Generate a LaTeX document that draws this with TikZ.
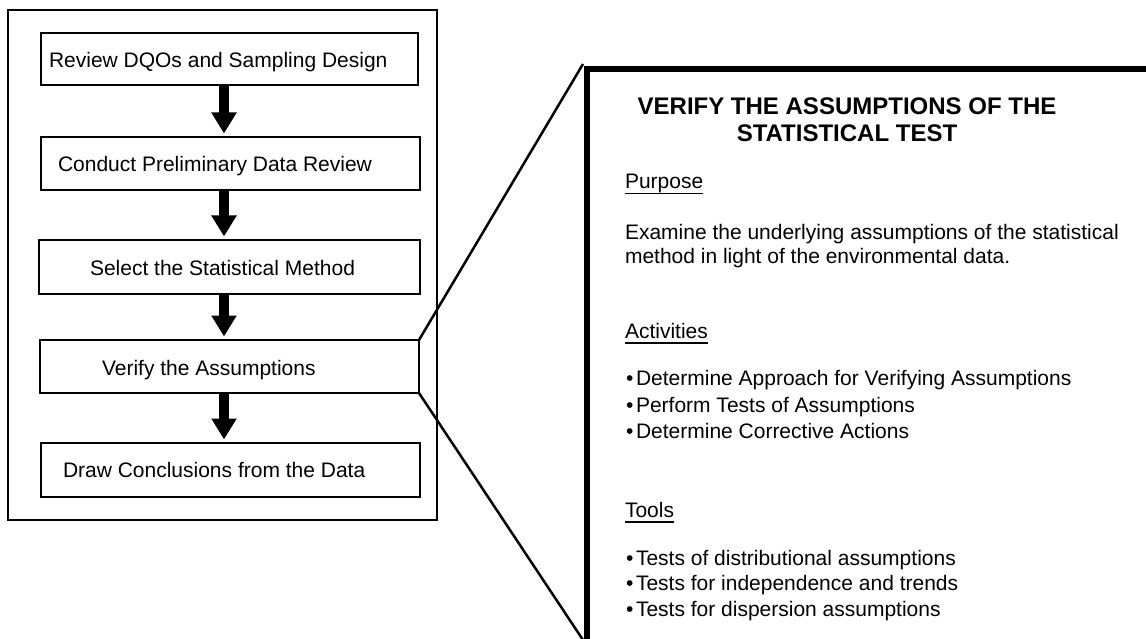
\documentclass[tikz,border=0pt]{standalone}
\usepackage{fontspec}
\setmainfont{Liberation Sans}
\usetikzlibrary{arrows.meta}
\newcommand\myul[1]{\setbox0\hbox{#1}\rlap{\rule[-5.5pt]{\wd0}{1.8pt}}\box0}
\newcommand\bul{\makebox[10pt][l]{•}}
\begin{document}
\begin{tikzpicture}[x=1pt,y=-1pt,
  every node/.style={inner sep=0pt, outer sep=0pt},
  txt/.style={anchor=base west, font=\fontsize{21}{24}\selectfont},
  head/.style={anchor=base, font=\fontsize{24}{27}\selectfont\bfseries},
  stepbox/.style={draw, line width=2.7pt, rectangle},
  frame/.style={draw, line width=2pt, rectangle},
  panelbox/.style={draw, line width=6pt, rectangle},
  bigarrow/.style={line width=10pt, -{Triangle[width=24pt,length=21pt]}, shorten >=3.5pt},
  zoomline/.style={line width=2.5pt}
]
\useasboundingbox (0,0) rectangle (1146,639);
\clip (0,0) rectangle (1146,639);
\fill[white] (0,0) rectangle (1146,639);

% left frame
\node[frame, minimum width=429pt, minimum height=509.5pt] (fr) at (222.5,265.25) {};

% step boxes
\node[stepbox, minimum width=377pt, minimum height=52pt] (b1) at (229.5,59) {};
\node[stepbox, minimum width=379pt, minimum height=53pt] (b2) at (230.5,163.5) {};
\node[stepbox, minimum width=381pt, minimum height=54pt] (b3) at (229.5,267) {};
\node[stepbox, minimum width=379pt, minimum height=53pt] (b4) at (229.5,366.5) {};
\node[stepbox, minimum width=379pt, minimum height=54pt] (b5) at (230.5,470) {};

\node[txt] (t1) at (49,68) {Review DQOs and Sampling Design};
\node[txt] (t2) at (58,172) {Conduct Preliminary Data Review};
\node[txt] (t3) at (90,276) {Select the Statistical Method};
\node[txt] (t4) at (102,375) {Verify the Assumptions};
\node[txt] (t5) at (63,477) {Draw Conclusions from the Data};

% arrows
\coordinate (ax) at (224,0);
\draw[bigarrow] (b1.south -| ax) -- (b2.north -| ax);
\draw[bigarrow] (b2.south -| ax) -- (b3.north -| ax);
\draw[bigarrow] (b3.south -| ax) -- (b4.north -| ax);
\draw[bigarrow] (b4.south -| ax) -- (b5.north -| ax);

% right panel
\node[panelbox, anchor=north west, minimum width=700pt, minimum height=572.5pt] (panel) at (587,69) {};
\coordinate (zt) at (583,64);
\coordinate (zb) at (583,640);
\draw[zoomline] (b4.north east) -- (zt);
\draw[zoomline] (b4.south east) -- (zb);

\node[head] (h1) at (847,115) {VERIFY THE ASSUMPTIONS OF THE};
\node[head] (h2) at (847,142) {STATISTICAL TEST};

\node[txt] (p0) at (625,189) {\myul{Purpose}};
\node[txt] (p1) at (625,240) {Examine the underlying assumptions of the statistical};
\node[txt] (p2) at (625,263) {method in light of the environmental data.};

\node[txt] (a0) at (625,338) {\myul{Activities}};
\node[txt] (a1) at (626,385) {\bul Determine Approach for Verifying Assumptions};
\node[txt] (a2) at (626,412) {\bul Perform Tests of Assumptions};
\node[txt] (a3) at (626,438) {\bul Determine Corrective Actions};

\node[txt] (o0) at (625,517) {\myul{Tools}};
\node[txt] (o1) at (626,565) {\bul Tests of distributional assumptions};
\node[txt] (o2) at (626,590) {\bul Tests for independence and trends};
\node[txt] (o3) at (626,616) {\bul Tests for dispersion assumptions};
\end{tikzpicture}
\end{document}
